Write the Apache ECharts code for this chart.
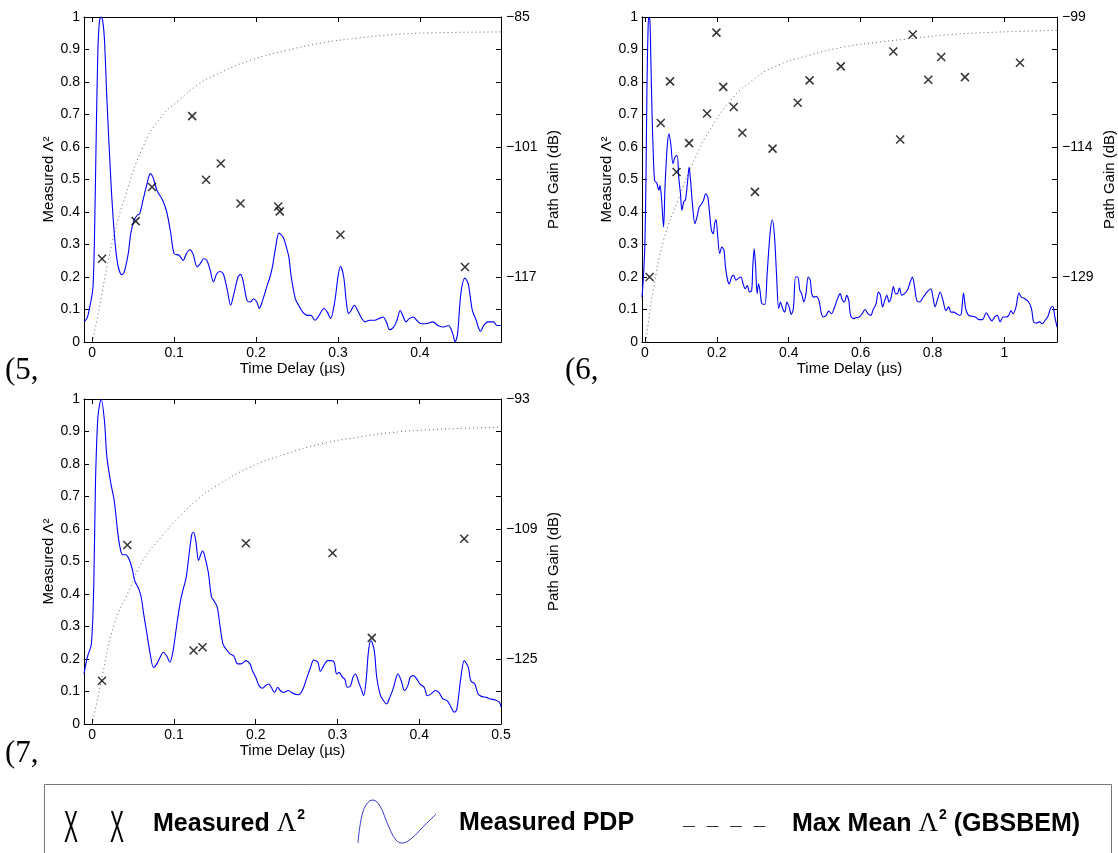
<!DOCTYPE html>
<html><head><meta charset="utf-8">
<script src="https://cdn.jsdelivr.net/npm/echarts@6/dist/echarts.min.js"></script>
<style>html,body{margin:0;padding:0;background:#fff}#c{width:1118px;height:853px}</style>
</head><body><div id="c"></div><script>
// ---------- Panel (5) ----------
const pdp5 = [[-0.01,0.062],[-0.006,0.075],[-0.002,0.12],[0.001,0.17],[0.003,0.35],[0.005,0.65],[0.007,0.9],[0.009,0.99],[0.011,1.0],[0.013,0.985],[0.015,0.93],[0.018,0.744],[0.023,0.487],[0.027,0.333],[0.031,0.241],[0.036,0.207],[0.039,0.215],[0.044,0.272],[0.047,0.333],[0.051,0.374],[0.055,0.39],[0.058,0.395],[0.062,0.436],[0.066,0.477],[0.071,0.518],[0.074,0.508],[0.079,0.467],[0.086,0.436],[0.091,0.4],[0.096,0.333],[0.1,0.272],[0.106,0.267],[0.111,0.251],[0.115,0.272],[0.119,0.284],[0.123,0.272],[0.128,0.231],[0.132,0.241],[0.136,0.256],[0.14,0.251],[0.144,0.221],[0.148,0.185],[0.152,0.21],[0.156,0.217],[0.16,0.21],[0.165,0.159],[0.169,0.113],[0.173,0.149],[0.178,0.2],[0.181,0.208],[0.184,0.19],[0.189,0.128],[0.193,0.123],[0.197,0.133],[0.201,0.123],[0.204,0.103],[0.208,0.128],[0.213,0.169],[0.217,0.2],[0.22,0.231],[0.224,0.292],[0.228,0.335],[0.233,0.323],[0.237,0.292],[0.24,0.262],[0.243,0.2],[0.248,0.133],[0.252,0.113],[0.257,0.092],[0.263,0.082],[0.267,0.082],[0.272,0.067],[0.277,0.082],[0.283,0.103],[0.287,0.092],[0.291,0.072],[0.296,0.123],[0.3,0.2],[0.303,0.233],[0.307,0.2],[0.31,0.128],[0.313,0.087],[0.316,0.097],[0.32,0.113],[0.324,0.097],[0.328,0.077],[0.333,0.062],[0.339,0.067],[0.345,0.067],[0.35,0.072],[0.355,0.077],[0.359,0.062],[0.363,0.038],[0.368,0.046],[0.372,0.067],[0.376,0.097],[0.379,0.082],[0.383,0.062],[0.387,0.072],[0.392,0.077],[0.396,0.067],[0.4,0.058],[0.407,0.056],[0.416,0.062],[0.422,0.051],[0.429,0.046],[0.435,0.051],[0.44,0.026],[0.443,0.0],[0.446,0.026],[0.45,0.149],[0.455,0.197],[0.459,0.179],[0.464,0.097],[0.468,0.072],[0.474,0.033],[0.478,0.051],[0.483,0.062],[0.49,0.062],[0.494,0.051],[0.499,0.051]];
const lambda5 = [[0.012,0.256],[0.053,0.372],[0.073,0.477],[0.122,0.695],[0.139,0.499],[0.157,0.549],[0.181,0.426],[0.227,0.417],[0.229,0.402],[0.303,0.33],[0.455,0.231]];
const maxMean5 = [[0.0,0.0],[0.006,0.07],[0.012,0.15],[0.018,0.23],[0.027,0.333],[0.04,0.446],[0.062,0.6],[0.084,0.692],[0.106,0.744],[0.128,0.79],[0.149,0.82],[0.193,0.867],[0.237,0.897],[0.28,0.92],[0.324,0.935],[0.368,0.946],[0.411,0.951],[0.499,0.954]];

// ---------- Panel (6) ----------
const pdp6 = [[-0.008,0.138],[-0.004,0.2],[0.0,0.3],[0.003,0.5],[0.006,0.8],[0.009,0.97],[0.011,1.0],[0.014,0.99],[0.017,0.85],[0.02,0.7],[0.023,0.59],[0.027,0.497],[0.033,0.489],[0.039,0.467],[0.042,0.482],[0.046,0.446],[0.052,0.354],[0.056,0.477],[0.062,0.6],[0.067,0.641],[0.072,0.61],[0.078,0.549],[0.084,0.569],[0.09,0.574],[0.094,0.508],[0.099,0.456],[0.103,0.405],[0.108,0.431],[0.113,0.438],[0.119,0.497],[0.123,0.538],[0.127,0.497],[0.133,0.415],[0.139,0.364],[0.145,0.385],[0.151,0.415],[0.157,0.424],[0.163,0.436],[0.169,0.456],[0.175,0.446],[0.18,0.395],[0.185,0.344],[0.19,0.333],[0.194,0.364],[0.198,0.376],[0.202,0.333],[0.208,0.272],[0.214,0.292],[0.22,0.282],[0.224,0.231],[0.23,0.19],[0.235,0.179],[0.241,0.2],[0.247,0.205],[0.253,0.19],[0.259,0.195],[0.267,0.2],[0.273,0.179],[0.279,0.164],[0.285,0.174],[0.291,0.154],[0.297,0.159],[0.3,0.231],[0.304,0.287],[0.308,0.231],[0.312,0.149],[0.316,0.179],[0.32,0.159],[0.324,0.123],[0.328,0.116],[0.334,0.116],[0.34,0.21],[0.348,0.333],[0.354,0.376],[0.36,0.333],[0.366,0.21],[0.372,0.103],[0.377,0.123],[0.383,0.103],[0.389,0.092],[0.395,0.123],[0.401,0.108],[0.407,0.085],[0.413,0.103],[0.419,0.2],[0.425,0.2],[0.431,0.159],[0.436,0.149],[0.442,0.123],[0.448,0.149],[0.454,0.2],[0.46,0.19],[0.464,0.149],[0.47,0.138],[0.476,0.141],[0.484,0.128],[0.49,0.092],[0.496,0.077],[0.504,0.082],[0.511,0.095],[0.519,0.087],[0.527,0.106],[0.534,0.128],[0.543,0.149],[0.549,0.13],[0.555,0.123],[0.561,0.144],[0.567,0.128],[0.572,0.082],[0.58,0.072],[0.588,0.075],[0.596,0.077],[0.604,0.087],[0.612,0.1],[0.62,0.087],[0.628,0.082],[0.635,0.1],[0.643,0.118],[0.649,0.154],[0.655,0.144],[0.661,0.108],[0.667,0.128],[0.673,0.144],[0.679,0.123],[0.685,0.138],[0.691,0.171],[0.697,0.149],[0.702,0.149],[0.708,0.167],[0.714,0.144],[0.722,0.149],[0.73,0.159],[0.738,0.185],[0.744,0.2],[0.75,0.169],[0.756,0.128],[0.764,0.123],[0.771,0.133],[0.781,0.149],[0.789,0.159],[0.795,0.164],[0.801,0.138],[0.807,0.108],[0.813,0.128],[0.821,0.154],[0.829,0.128],[0.837,0.097],[0.845,0.108],[0.851,0.092],[0.859,0.092],[0.867,0.087],[0.875,0.082],[0.88,0.087],[0.886,0.151],[0.892,0.103],[0.9,0.082],[0.91,0.079],[0.919,0.077],[0.929,0.069],[0.939,0.069],[0.949,0.09],[0.957,0.077],[0.965,0.065],[0.973,0.077],[0.98,0.082],[0.988,0.062],[0.996,0.077],[1.004,0.077],[1.012,0.082],[1.018,0.097],[1.024,0.087],[1.032,0.108],[1.04,0.151],[1.047,0.138],[1.057,0.133],[1.067,0.123],[1.075,0.103],[1.081,0.062],[1.089,0.058],[1.097,0.062],[1.105,0.056],[1.113,0.067],[1.12,0.077],[1.128,0.103],[1.134,0.11],[1.14,0.077],[1.146,0.046]];
const lambda6 = [[0.013,0.2],[0.044,0.674],[0.07,0.802],[0.088,0.523],[0.123,0.612],[0.173,0.703],[0.199,0.952],[0.218,0.785],[0.247,0.723],[0.271,0.644],[0.306,0.462],[0.355,0.595],[0.425,0.736],[0.458,0.805],[0.545,0.848],[0.691,0.894],[0.71,0.623],[0.745,0.946],[0.788,0.807],[0.824,0.877],[0.89,0.815],[1.043,0.859]];
const maxMean6 = [[0.003,0.0],[0.012,0.08],[0.023,0.159],[0.052,0.313],[0.092,0.436],[0.141,0.569],[0.18,0.651],[0.239,0.744],[0.299,0.805],[0.358,0.846],[0.456,0.882],[0.555,0.908],[0.653,0.923],[0.752,0.935],[0.85,0.946],[0.949,0.952],[1.047,0.956],[1.146,0.959]];

// ---------- Panel (7) ----------
const pdp7 = [[-0.01,0.154],[-0.006,0.205],[-0.001,0.246],[0.002,0.431],[0.004,0.738],[0.007,0.944],[0.011,1.0],[0.015,0.933],[0.018,0.821],[0.023,0.738],[0.027,0.687],[0.031,0.595],[0.034,0.544],[0.037,0.521],[0.041,0.521],[0.045,0.508],[0.049,0.477],[0.052,0.441],[0.057,0.415],[0.06,0.39],[0.063,0.338],[0.067,0.277],[0.071,0.215],[0.075,0.174],[0.079,0.185],[0.084,0.21],[0.087,0.221],[0.091,0.21],[0.095,0.19],[0.099,0.226],[0.103,0.297],[0.108,0.379],[0.112,0.421],[0.115,0.451],[0.119,0.533],[0.122,0.585],[0.124,0.59],[0.127,0.559],[0.13,0.503],[0.133,0.523],[0.135,0.533],[0.138,0.513],[0.142,0.467],[0.146,0.39],[0.149,0.379],[0.153,0.359],[0.156,0.308],[0.16,0.246],[0.165,0.226],[0.169,0.215],[0.173,0.21],[0.178,0.185],[0.182,0.185],[0.188,0.195],[0.193,0.185],[0.196,0.164],[0.2,0.144],[0.204,0.118],[0.208,0.11],[0.212,0.118],[0.216,0.123],[0.219,0.113],[0.223,0.097],[0.227,0.113],[0.23,0.103],[0.234,0.097],[0.24,0.103],[0.245,0.095],[0.252,0.09],[0.257,0.103],[0.262,0.138],[0.267,0.174],[0.271,0.197],[0.276,0.19],[0.279,0.162],[0.283,0.179],[0.288,0.195],[0.292,0.195],[0.296,0.19],[0.299,0.154],[0.302,0.159],[0.306,0.144],[0.309,0.138],[0.312,0.113],[0.316,0.118],[0.319,0.144],[0.322,0.154],[0.326,0.128],[0.329,0.108],[0.332,0.087],[0.335,0.133],[0.338,0.226],[0.341,0.256],[0.345,0.226],[0.348,0.144],[0.352,0.092],[0.355,0.077],[0.36,0.062],[0.364,0.082],[0.368,0.108],[0.372,0.144],[0.374,0.154],[0.378,0.133],[0.382,0.103],[0.386,0.118],[0.389,0.144],[0.393,0.149],[0.397,0.138],[0.401,0.123],[0.406,0.113],[0.41,0.087],[0.414,0.092],[0.42,0.103],[0.424,0.097],[0.429,0.077],[0.434,0.072],[0.438,0.056],[0.443,0.036],[0.446,0.046],[0.451,0.144],[0.455,0.195],[0.46,0.174],[0.463,0.133],[0.468,0.123],[0.472,0.092],[0.476,0.085],[0.482,0.082],[0.487,0.077],[0.493,0.074],[0.498,0.067],[0.5,0.053]];
const lambda7 = [[0.012,0.133],[0.043,0.551],[0.124,0.226],[0.135,0.236],[0.188,0.556],[0.294,0.526],[0.342,0.265],[0.455,0.57]];
const maxMean7 = [[0.0,0.0],[0.006,0.07],[0.012,0.144],[0.027,0.308],[0.045,0.41],[0.062,0.503],[0.084,0.574],[0.106,0.636],[0.127,0.687],[0.149,0.728],[0.193,0.79],[0.237,0.831],[0.28,0.862],[0.324,0.882],[0.367,0.897],[0.411,0.905],[0.455,0.91],[0.5,0.913]];

// axis tick labels (right side, dB) per panel
const dbTicks5 = [-117,-101,-85];
const dbTicks6 = [-129,-114,-99];
const dbTicks7 = [-125,-109,-93];
const panelTags = ['(5,','(6,','(7,'];

const FONT = '"Liberation Sans", Arial, Helvetica, sans-serif';
const panels = [
  {grid:{left:84,top:17,width:417,height:325}, xMin:-0.01, xMax:0.499, xStep:0.1, dbMin:-125, dbMax:-85, dbStep:1, db:dbTicks5, pdp:pdp5, meas:lambda5, mm:maxMean5},
  {grid:{left:642,top:17,width:415,height:325}, xMin:-0.008, xMax:1.146, xStep:0.2, dbMin:-136.5, dbMax:-99, dbStep:0.5, db:dbTicks6, pdp:pdp6, meas:lambda6, mm:maxMean6},
  {grid:{left:84,top:399,width:417,height:325}, xMin:-0.01, xMax:0.5, xStep:0.1, dbMin:-133, dbMax:-93, dbStep:1, db:dbTicks7, pdp:pdp7, meas:lambda7, mm:maxMean7}
];

const grids=[], xAxes=[], yAxes=[], series=[];
const lineC = '#000';
panels.forEach((p,i)=>{
  grids.push(Object.assign({containLabel:false}, p.grid));
  const xfmt = v => { const k=Math.round(v/p.xStep); if (Math.abs(v-k*p.xStep)>1e-6 || v < -1e-9) return ''; return String(+(k*p.xStep).toFixed(2)); };
  xAxes.push({gridIndex:i, type:'value', position:'bottom', min:p.xMin, max:p.xMax, minInterval:p.xStep, maxInterval:p.xStep,
    axisLine:{show:true,onZero:false,lineStyle:{color:lineC,width:1}}, axisTick:{show:true,inside:true,length:5,lineStyle:{color:lineC}},
    axisLabel:{formatter:xfmt, color:'#000', fontSize:14, fontFamily:FONT, margin:4, showMinLabel:true, showMaxLabel:true},
    splitLine:{show:false}, name:'Time Delay (µs)', nameLocation:'middle', nameGap:19, nameTextStyle:{color:'#000',fontSize:15,fontFamily:FONT}});
  xAxes.push({gridIndex:i, type:'value', position:'top', min:p.xMin, max:p.xMax, minInterval:p.xStep, maxInterval:p.xStep,
    axisLine:{show:true,onZero:false,lineStyle:{color:lineC,width:1}}, axisTick:{show:true,inside:true,length:5,lineStyle:{color:lineC}},
    axisLabel:{show:false}, splitLine:{show:false}});
  yAxes.push({gridIndex:i, type:'value', position:'left', min:0, max:1, interval:0.1,
    axisLine:{show:true,onZero:false,lineStyle:{color:lineC,width:1}}, axisTick:{show:true,inside:true,length:5,lineStyle:{color:lineC}},
    axisLabel:{formatter:v=>String(+v.toFixed(1)), color:'#000', fontSize:14, fontFamily:FONT, margin:4},
    splitLine:{show:false}, name:'Measured Λ²', nameLocation:'middle', nameRotate:90, nameGap:23, nameTextStyle:{color:'#000',fontSize:15,fontFamily:FONT}});
  const dbfmt = v => p.db.some(t=>Math.abs(t-v)<1e-6) ? '\u2212'+Math.abs(Math.round(v)) : '';
  yAxes.push({gridIndex:i, type:'value', position:'right', min:p.dbMin, max:p.dbMax, interval:p.dbStep,
    axisLine:{show:false}, axisTick:{show:false},
    axisLabel:{formatter:dbfmt, customValues:p.db, color:'#000', fontSize:14, fontFamily:FONT, margin:5},
    splitLine:{show:false}, name:'Path Gain (dB)', nameLocation:'middle', nameRotate:90, nameGap:45, nameTextStyle:{color:'#000',fontSize:15,fontFamily:FONT}});
  yAxes.push({gridIndex:i, type:'value', position:'right', min:0, max:1, interval:0.1,
    axisLine:{show:true,onZero:false,lineStyle:{color:lineC,width:1}}, axisTick:{show:true,inside:true,length:5,lineStyle:{color:lineC}},
    axisLabel:{show:false}, splitLine:{show:false}});
  series.push({type:'line', name:'Max Mean Λ² (GBSBEM)', xAxisIndex:2*i, yAxisIndex:3*i, data:p.mm, showSymbol:false, smooth:0.5, silent:true,
    lineStyle:{color:'#666', width:1, type:[1,3]}, z:2});
  series.push({type:'line', name:'Measured PDP', xAxisIndex:2*i, yAxisIndex:3*i, data:p.pdp, showSymbol:false, smooth:0.3, silent:true,
    lineStyle:{color:'#0000ff', width:1.1}, z:3});
  series.push({type:'scatter', name:'Measured Λ²', xAxisIndex:2*i, yAxisIndex:3*i, data:p.meas, symbol:'path://M0,0L10,10M10,0L0,10', symbolSize:[8,8],
    itemStyle:{color:'#000', borderColor:'#000', borderWidth:1.5}, z:4});
});

const graphic = [
  {type:'text', left:5, top:355, style:{text:panelTags[0], font:'31px "Liberation Serif", serif', fill:'#000'}},
  {type:'text', left:565, top:355, style:{text:panelTags[1], font:'31px "Liberation Serif", serif', fill:'#000'}},
  {type:'text', left:5, top:738, style:{text:panelTags[2], font:'31px "Liberation Serif", serif', fill:'#000'}},
  // legend box
  {type:'rect', shape:{x:44.5,y:784.5,width:1067,height:80}, style:{fill:'#fff', stroke:'#777', lineWidth:1}, z:1},
  {type:'text', x:64, y:808, scaleX:0.95, scaleY:2.0, style:{text:'X', font:'22px "Liberation Sans", sans-serif', fill:'#000', verticalAlign:'top'}, z:2},
  {type:'text', x:110, y:808, scaleX:0.95, scaleY:2.0, style:{text:'X', font:'22px "Liberation Sans", sans-serif', fill:'#000', verticalAlign:'top'}, z:2},
  {type:'text', x:153, y:824, style:{text:'{b|Measured }{l|Λ}{s|2}', verticalAlign:'middle', rich:{
      b:{font:'bold 25px "Liberation Sans", sans-serif', fill:'#000'},
      l:{font:'27px "Liberation Serif", serif', fill:'#000'},
      s:{font:'bold 14px "Liberation Sans", sans-serif', fill:'#000', padding:[0,0,17,1]}}}, z:2},
  {type:'polyline', shape:{points:[[358,843],[361,820],[366,805],[373,800],[380,806],[388,825],[396,840],[403,843],[412,838],[422,828],[436,814]], smooth:0.4}, style:{stroke:'#3a3ad0', lineWidth:1, fill:null}, z:2},
  {type:'text', x:459, y:823, style:{text:'Measured PDP', verticalAlign:'middle', font:'bold 25px "Liberation Sans", sans-serif', fill:'#000'}, z:2},
  {type:'line', shape:{x1:683,y1:826.5,x2:766,y2:826.5}, style:{stroke:'#333', lineWidth:1, lineDash:[12,11.5]}, z:2},
  {type:'text', x:792, y:824, style:{text:'{b|Max Mean }{l|Λ}{s|2}{b| (GBSBEM)}', verticalAlign:'middle', rich:{
      b:{font:'bold 25px "Liberation Sans", sans-serif', fill:'#000'},
      l:{font:'27px "Liberation Serif", serif', fill:'#000'},
      s:{font:'bold 14px "Liberation Sans", sans-serif', fill:'#000', padding:[0,0,17,1]}}}, z:2}
];

const chart = echarts.init(document.getElementById('c'), null, {renderer:'canvas'});
chart.setOption({backgroundColor:'#fff', animation:false, grid:grids, xAxis:xAxes, yAxis:yAxes, series:series, graphic:graphic});
</script></body></html>
